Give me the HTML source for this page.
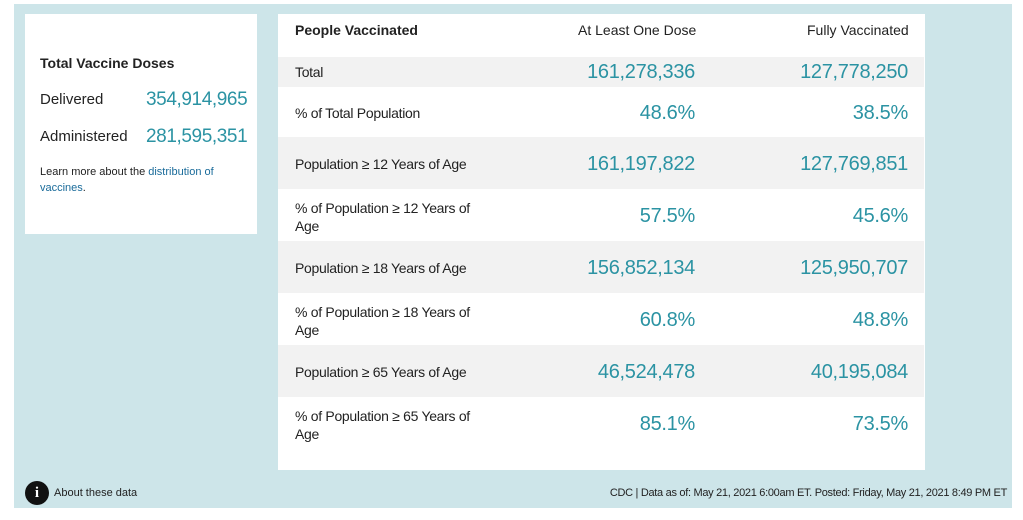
<!DOCTYPE html>
<html><head><style>
body{margin:0;width:1023px;height:520px;background:#fff;font-family:"Liberation Sans",sans-serif;position:relative;overflow:hidden;color:#222}
.bg{position:absolute;left:14px;top:4px;width:998px;height:504px;background:#cde5e9}
.box{position:absolute;background:#fff}
.a{position:absolute;white-space:nowrap}
.t{color:#2b93a3}
.row{position:absolute;left:278px;width:646px}
.g{background:#f2f2f2}
.lab{position:absolute;left:17px;font-size:14px;letter-spacing:-0.3px;line-height:18px}
.n1{position:absolute;right:229px;font-size:20px;color:#2b93a3;letter-spacing:-0.3px}
.n2{position:absolute;right:16px;font-size:20px;color:#2b93a3;letter-spacing:-0.3px}
</style></head><body>
<div class="bg"></div>
<div class="box" style="left:25px;top:14px;width:232px;height:220px"></div>
<div class="a" style="left:40px;top:55px;font-size:14px;font-weight:bold">Total Vaccine Doses</div>
<div class="a" style="left:40px;top:91px;font-size:15px">Delivered</div>
<div class="a t" style="left:146px;top:89px;font-size:19px;letter-spacing:-0.4px">354,914,965</div>
<div class="a" style="left:40px;top:128px;font-size:15px">Administered</div>
<div class="a t" style="left:146px;top:126px;font-size:19px;letter-spacing:-0.4px">281,595,351</div>
<div class="a" style="left:40px;top:164px;font-size:11px;line-height:16px">Learn more about the <span style="color:#1a6b9a">distribution of</span><br><span style="color:#1a6b9a">vaccines</span>.</div>

<div class="box" style="left:278px;top:14px;width:647px;height:456px"></div>
<div class="a" style="left:295px;top:22px;font-size:14px;font-weight:bold">People Vaccinated</div>
<div class="a" style="left:578px;top:22px;font-size:14px">At Least One Dose</div>
<div class="a" style="left:807px;top:22px;font-size:14px">Fully Vaccinated</div>

<div class="row g" style="top:57px;height:30px"><div class="lab" style="top:6px">Total</div><div class="n1" style="top:4px">161,278,336</div><div class="n2" style="top:4px">127,778,250</div></div>
<div class="row" style="top:87px;height:50px"><div class="lab" style="top:17px">% of Total Population</div><div class="n1" style="top:15px">48.6%</div><div class="n2" style="top:15px">38.5%</div></div>
<div class="row g" style="top:137px;height:52px"><div class="lab" style="top:18px">Population ≥ 12 Years of Age</div><div class="n1" style="top:16px">161,197,822</div><div class="n2" style="top:16px">127,769,851</div></div>
<div class="row" style="top:189px;height:52px"><div class="lab" style="top:10px">% of Population ≥ 12 Years of<br>Age</div><div class="n1" style="top:16px">57.5%</div><div class="n2" style="top:16px">45.6%</div></div>
<div class="row g" style="top:241px;height:52px"><div class="lab" style="top:18px">Population ≥ 18 Years of Age</div><div class="n1" style="top:16px">156,852,134</div><div class="n2" style="top:16px">125,950,707</div></div>
<div class="row" style="top:293px;height:52px"><div class="lab" style="top:10px">% of Population ≥ 18 Years of<br>Age</div><div class="n1" style="top:16px">60.8%</div><div class="n2" style="top:16px">48.8%</div></div>
<div class="row g" style="top:345px;height:52px"><div class="lab" style="top:18px">Population ≥ 65 Years of Age</div><div class="n1" style="top:16px">46,524,478</div><div class="n2" style="top:16px">40,195,084</div></div>
<div class="row" style="top:397px;height:52px"><div class="lab" style="top:10px">% of Population ≥ 65 Years of<br>Age</div><div class="n1" style="top:16px">85.1%</div><div class="n2" style="top:16px">73.5%</div></div>

<div class="a" style="left:25px;top:481px;width:24px;height:24px;border-radius:50%;background:#111;color:#fff;font-weight:bold;font-size:15px;text-align:center;line-height:24px;font-family:'Liberation Serif',serif">i</div>
<div class="a" style="left:54px;top:487px;font-size:11px">About these data</div>
<div class="a" style="right:16px;top:487px;font-size:11px;letter-spacing:-0.3px">CDC | Data as of: May 21, 2021 6:00am ET. Posted: Friday, May 21, 2021 8:49 PM ET</div>
</body></html>
